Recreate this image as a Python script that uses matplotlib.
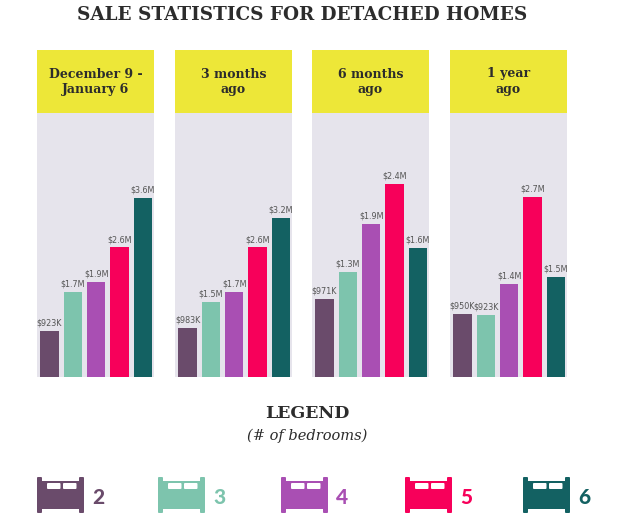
import matplotlib
matplotlib.use("Agg")
import matplotlib.pyplot as plt
from matplotlib.patches import Rectangle, FancyBboxPatch

periods = ["December 9 -\nJanuary 6", "3 months\nago", "6 months\nago", "1 year\nago"]
bedrooms = ["2", "3", "4", "5", "6"]
# median sale price, millions of dollars
prices = [
    [0.923, 1.7, 1.9, 2.6, 3.6],
    [0.983, 1.5, 1.7, 2.6, 3.2],
    [0.971, 1.3, 1.9, 2.4, 1.6],
    [0.950, 0.923, 1.4, 2.7, 1.5],
]
ymax = [5.3, 5.3, 3.28, 3.96]
colors = ["#6a4b6b", "#7dc4ad", "#a94fb3", "#f7005a", "#136162"]

YELLOW = "#ede738"
GREY = "#e6e4ec"
DARK = "#2c2c2c"
W, H = 623, 530


def fx(px):
    return px / W


def fy(py):
    return 1 - py / H


def money(v):
    if v < 1:
        return f"${v * 1000:.0f}K"
    return f"${v:.1f}M"


fig = plt.figure(figsize=(W / 100, H / 100), dpi=100)
fig.patch.set_facecolor("white")

panel_left = [37, 175, 312, 450]
panel_w = 117
top_y, head_y, base_y = 50, 113, 377

for i, period in enumerate(periods):
    x0 = panel_left[i]
    # yellow header
    fig.patches.append(Rectangle((fx(x0), fy(head_y)), fx(panel_w), (head_y - top_y) / H,
                                 transform=fig.transFigure, facecolor=YELLOW,
                                 edgecolor="none", zorder=0))
    fig.text(fx(x0 + panel_w / 2), fy((top_y + head_y) / 2), period,
             ha="center", va="center", fontsize=9, fontweight="bold",
             family="DejaVu Serif", color=DARK, linespacing=1.2)

    ax = fig.add_axes([fx(x0), fy(base_y), fx(panel_w), (base_y - head_y) / H])
    ax.set_facecolor(GREY)
    xs = list(range(len(bedrooms)))
    ax.bar(xs, prices[i], width=0.79, color=colors, edgecolor="none")
    for x, v in zip(xs, prices[i]):
        ax.annotate(money(v), (x, v), xytext=(0, 2.5), textcoords="offset points",
                    ha="center", va="bottom", fontsize=5.8, color="#555555",
                    family="DejaVu Sans")
    ax.set_xlim(-0.535, 4.47)
    ax.set_ylim(0, ymax[i])
    ax.set_xticks([])
    ax.set_yticks([])
    for s in ax.spines.values():
        s.set_visible(False)

fig.text(fx(302), fy(15), "SALE STATISTICS FOR DETACHED HOMES", ha="center", va="center",
         fontsize=13.2, fontweight="bold", family="DejaVu Serif", color=DARK)

fig.text(fx(307), fy(413), "LEGEND", ha="center", va="center",
         fontsize=12.5, fontweight="bold", family="DejaVu Serif", color=DARK)
fig.text(fx(307), fy(436), "(# of bedrooms)", ha="center", va="center",
         fontsize=10.5, style="italic", family="DejaVu Serif", color=DARK)

# legend with bed icons, drawn in pixel space
ov = fig.add_axes([0, 0, 1, 1], zorder=5)
ov.set_xlim(0, W)
ov.set_ylim(H, 0)
ov.axis("off")
ov.patch.set_alpha(0)

icon_left = [37, 158, 281, 405, 523]
for bx, lab, c in zip(icon_left, bedrooms, colors):
    ov.add_patch(Rectangle((bx, 481), 47, 28, facecolor=c, edgecolor="none"))
    for px in (bx, bx + 42):
        ov.add_patch(FancyBboxPatch((px + 1, 478), 3, 34, boxstyle="round,pad=1",
                                    facecolor=c, edgecolor="none"))
    for px in (bx + 10, bx + 26):
        ov.add_patch(FancyBboxPatch((px + 1, 484), 11.5, 4, boxstyle="round,pad=1",
                                    facecolor="white", edgecolor="none"))
    ov.text(bx + 55, 497, lab, ha="left", va="center", fontsize=15,
            fontweight=900, family="Lato", color=c)

fig.savefig("out.png", dpi=100)
